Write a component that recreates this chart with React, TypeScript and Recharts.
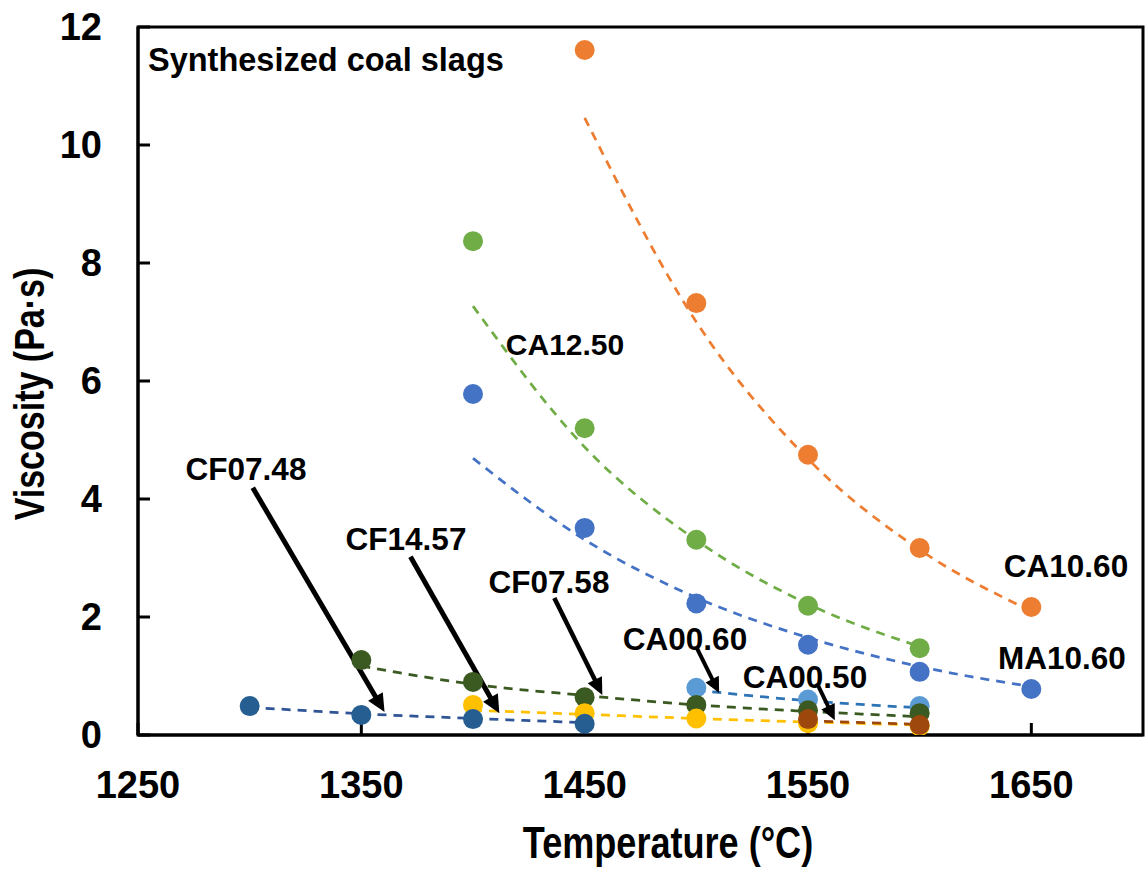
import React from "react";
import {
  ComposedChart, Scatter, Line, XAxis, YAxis, ReferenceLine, ReferenceArea,
} from "recharts";

// measured viscosity (Pa·s) and trend-line readings per slag
const ca1060Temp = [1450, 1500, 1550, 1600, 1650];
const ca1060Visc = [11.61, 7.32, 4.75, 3.17, 2.17];
const ca1060Fit = [10.46, 7.0, 4.68, 3.14, 2.1];

const ca1250Temp = [1400, 1450, 1500, 1550, 1600];
const ca1250Visc = [8.37, 5.2, 3.31, 2.19, 1.47];
const ca1250Fit = [7.27, 4.88, 3.3, 2.22, 1.5];

const ma1060Temp = [1400, 1450, 1500, 1550, 1600, 1650];
const ma1060Visc = [5.78, 3.51, 2.23, 1.53, 1.07, 0.78];
const ma1060Fit = [4.69, 3.31, 2.33, 1.65, 1.16, 0.82];

const ca0060Temp = [1500, 1550, 1600];
const ca0060Visc = [0.8, 0.6, 0.49];
const ca0060Fit = [0.76, 0.58, 0.46];

const cf0758Temp = [1350, 1400, 1450, 1500, 1550, 1600];
const cf0758Visc = [1.27, 0.9, 0.64, 0.51, 0.42, 0.37];
const cf0758Fit = [1.17, 0.86, 0.67, 0.51, 0.4, 0.31];

const cf1457Temp = [1400, 1450, 1500, 1550, 1600];
const cf1457Visc = [0.51, 0.37, 0.28, 0.2, 0.15];
const cf1457Fit = [0.42, 0.35, 0.28, 0.22, 0.17];

const cf0748Temp = [1300, 1350, 1400, 1450];
const cf0748Visc = [0.49, 0.34, 0.27, 0.19];
const cf0748Fit = [0.47, 0.36, 0.28, 0.21];

const ca0050Temp = [1550, 1600];
const ca0050Visc = [0.27, 0.17];
const ca0050Fit = [0.24, 0.18];

const xTicks = [1250, 1350, 1450, 1550, 1650];
const yTicks = [0, 2, 4, 6, 8, 10, 12];

// annotation arrows: tail and head in data units
const arrows = [
  { name: "CF07.48", from: [1301.4, 4.19], to: [1360.4, 0.39], w: 5 },
  { name: "CF14.57", from: [1372.0, 3.02], to: [1411.8, 0.37], w: 5 },
  { name: "CF07.58", from: [1436.4, 2.32], to: [1457.9, 0.68], w: 4.5 },
  { name: "CA00.60", from: [1500.3, 1.47], to: [1510.2, 0.71], w: 4 },
  { name: "CA00.50", from: [1554.0, 0.88], to: [1562.0, 0.25], w: 4 },
];

const toPts = (t: number[], v: number[]) => t.map((x, i) => ({ t: x, v: v[i] }));

const series = [
  { id: "CA10.60", color: "#ED7D31", fit: "#ED7D31", t: ca1060Temp, v: ca1060Visc, f: ca1060Fit },
  { id: "CA12.50", color: "#70AD47", fit: "#70AD47", t: ca1250Temp, v: ca1250Visc, f: ca1250Fit },
  { id: "MA10.60", color: "#4472C4", fit: "#4472C4", t: ma1060Temp, v: ma1060Visc, f: ma1060Fit },
  { id: "CA00.60", color: "#5B9BD5", fit: "#2E75B6", t: ca0060Temp, v: ca0060Visc, f: ca0060Fit },
  { id: "CF07.58", color: "#3A5A22", fit: "#3A5A22", t: cf0758Temp, v: cf0758Visc, f: cf0758Fit },
  { id: "CF14.57", color: "#FFC000", fit: "#FFC000", t: cf1457Temp, v: cf1457Visc, f: cf1457Fit },
  { id: "CF07.48", color: "#265E92", fit: "#2F5597", t: cf0748Temp, v: cf0748Visc, f: cf0748Fit },
  { id: "CA00.50", color: "#9E480E", fit: "#9E480E", t: ca0050Temp, v: ca0050Visc, f: ca0050Fit },
];

const FONT = "'Liberation Sans', Arial, Helvetica, sans-serif";

const dot = (color: string) => (p: any) => (
  <circle cx={p.cx} cy={p.cy} r={10} fill={color} stroke="none" />
);

const arrowShape = (w: number) => (p: any) => {
  const { x1, y1, x2, y2 } = p;
  const dx = x2 - x1, dy = y2 - y1;
  const len = Math.sqrt(dx * dx + dy * dy);
  const ux = dx / len, uy = dy / len;
  const hl = 6 + w * 2.4, hw = 3 + w * 1.1;
  const bx = x2 - ux * hl, by = y2 - uy * hl;
  return (
    <g>
      <line x1={x1} y1={y1} x2={bx + ux * 2} y2={by + uy * 2} stroke="#000" strokeWidth={w} />
      <polygon
        points={`${x2},${y2} ${bx - uy * hw},${by + ux * hw} ${bx + uy * hw},${by - ux * hw}`}
        fill="#000"
      />
    </g>
  );
};

const tickStyle = { fill: "#000", fontSize: 38, fontWeight: 700, fontFamily: FONT };

// label anchors in pixel space of the 1145x871 figure
const notes = [
  { text: "Synthesized coal slags", x: 148, y: 71, size: 32.5, anchor: "start" },
  { text: "CA12.50", x: 565, y: 355, size: 30, anchor: "middle" },
  { text: "CF07.48", x: 246, y: 480, size: 31.5, anchor: "middle" },
  { text: "CF14.57", x: 406, y: 550, size: 31.5, anchor: "middle" },
  { text: "CF07.58", x: 549, y: 593, size: 31.5, anchor: "middle" },
  { text: "CA00.60", x: 685, y: 650, size: 31.5, anchor: "middle" },
  { text: "CA00.50", x: 805, y: 688, size: 31.5, anchor: "middle" },
  { text: "CA10.60", x: 1066, y: 577, size: 31.5, anchor: "middle" },
  { text: "MA10.60", x: 1062, y: 669, size: 31.5, anchor: "middle" },
];

export default function App() {
  return (
    <div style={{ position: "absolute", left: 0, top: 0, width: 1145, height: 871, background: "#fff" }}>
      <ComposedChart width={1145} height={871} margin={{ top: 27, right: 2, bottom: 76, left: 2 }}>
        <XAxis
          dataKey="t" type="number" domain={[1250, 1700]} ticks={xTicks} allowDataOverflow
          height={60} tickSize={-12} tickMargin={48}
          axisLine={{ stroke: "#000", strokeWidth: 3 }} tickLine={{ stroke: "#000", strokeWidth: 3 }}
          tick={tickStyle}
        />
        <YAxis
          dataKey="v" type="number" domain={[0, 12]} ticks={yTicks} allowDataOverflow
          width={136} tickSize={-12} tickMargin={48}
          axisLine={{ stroke: "#000", strokeWidth: 3 }} tickLine={{ stroke: "#000", strokeWidth: 3 }}
          tick={tickStyle}
        />
        <ReferenceArea x1={1250} x2={1700} y1={0} y2={12} fill="none" stroke="#000" strokeWidth={3} />
        {series.map((s) => (
          <Scatter
            key={"p" + s.id} name={s.id} data={toPts(s.t, s.v)} dataKey="v"
            fill={s.color} shape={dot(s.color)} isAnimationActive={false}
          />
        ))}
        {series.map((s) => (
          <Line
            key={"f" + s.id} data={toPts(s.t, s.f)} dataKey="v" type="monotone"
            stroke={s.fit} strokeWidth={2.75} strokeDasharray="9 7" dot={false}
            activeDot={false} isAnimationActive={false}
          />
        ))}
        {arrows.map((a) => (
          <ReferenceLine
            key={a.name}
            segment={[{ x: a.from[0], y: a.from[1] }, { x: a.to[0], y: a.to[1] }]}
            shape={arrowShape(a.w)}
          />
        ))}
      </ComposedChart>
      <svg width={1145} height={871} style={{ position: "absolute", left: 0, top: 0, pointerEvents: "none" }}>
        {notes.map((n) => (
          <text
            key={n.text} x={n.x} y={n.y} textAnchor={n.anchor as any}
            fontFamily={FONT} fontWeight={700} fontSize={n.size} fill="#000"
          >
            {n.text}
          </text>
        ))}
        <text
          x={0} y={0} transform="translate(668,858) scale(0.82,1)" textAnchor="middle"
          fontFamily={FONT} fontWeight={700} fontSize={44} fill="#000"
        >
          Temperature (°C)
        </text>
        <text
          x={0} y={0} transform="translate(44,394) rotate(-90) scale(0.81,1)" textAnchor="middle"
          fontFamily={FONT} fontWeight={700} fontSize={42} fill="#000"
        >
          Viscosity (Pa·s)
        </text>
      </svg>
    </div>
  );
}
